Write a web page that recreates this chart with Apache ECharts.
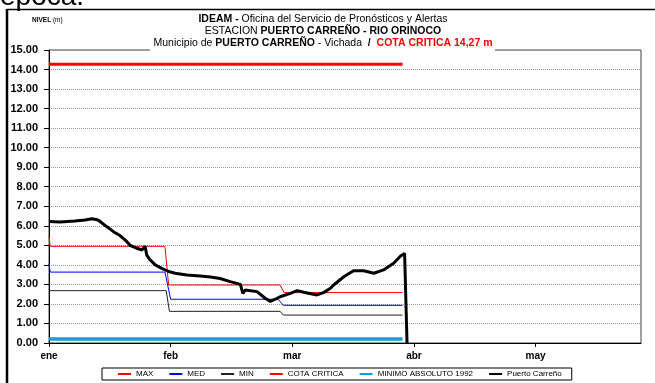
<!DOCTYPE html>
<html>
<head>
<meta charset="utf-8">
<script src="https://cdn.jsdelivr.net/npm/echarts@6/dist/echarts.min.js"></script>
<style>
html,body{margin:0;padding:0;background:#fff;}
#chart{width:655px;height:383px;}
</style>
</head>
<body>
<div id="chart"></div>
<script>
// Time axis: day index from 1 January, months drawn every 30 days
const monthLabels = ['ene', 'feb', 'mar', 'abr', 'may'];
const monthTicks = [0, 30, 60, 90, 120];

// Historical reference levels (m)
const maxDays = [0, 0.3, 28.6, 29.5, 57.0, 58.0, 87.2];
const maxVals = [5.45, 4.95, 4.95, 2.97, 2.97, 2.58, 2.58];
const medDays = [0, 0.3, 28.6, 30.0, 56.5, 57.8, 87.2];
const medVals = [4.05, 3.63, 3.63, 2.24, 2.24, 1.93, 1.93];
const minDays = [0, 28.9, 29.7, 57.0, 57.8, 87.2];
const minVals = [2.68, 2.68, 1.62, 1.62, 1.43, 1.43];

// Critical level and absolute minimum
const cotaDays = [0, 87.2];
const cotaVals = [14.27, 14.27];
const minAbsDays = [0, 87.2];
const minAbsVals = [0.2, 0.2];

// Observed level at Puerto Carreño
const pcDays = [0, 2.7, 6.4, 8.9, 10.6, 12.1, 12.6, 14.2, 15.9, 17.5, 18.8, 20.0, 21.7, 22.9,
  23.7, 24.1, 24.8, 26.2, 27.8, 29.5, 31.1, 34.0, 37.3, 39.8, 42.2, 44.7, 47.2, 47.6, 47.8,
  48.4, 48.8, 51.3, 53.3, 54.6, 55.8, 57.0, 59.5, 61.2, 62.8, 66.1, 67.7, 69.4, 70.2, 72.7,
  75.1, 77.6, 80.1, 82.5, 85.0, 86.7, 87.7, 88.0, 88.3];
const pcVals = [6.22, 6.20, 6.24, 6.30, 6.36, 6.30, 6.22, 5.96, 5.70, 5.50, 5.27, 5.00, 4.85, 4.76,
  4.95, 4.50, 4.29, 4.00, 3.82, 3.66, 3.57, 3.48, 3.43, 3.38, 3.30, 3.14, 3.00, 2.97, 2.54,
  2.71, 2.75, 2.63, 2.29, 2.13, 2.24, 2.37, 2.54, 2.68, 2.60, 2.46, 2.58, 2.80, 2.97, 3.39,
  3.70, 3.70, 3.57, 3.74, 4.08, 4.45, 4.58, 4.50, 0.0];

const FONT = '"Liberation Sans", Arial, sans-serif';
const pairs = (xs, ys) => xs.map((d, i) => [d, ys[i]]);

const chart = echarts.init(document.getElementById('chart'), null, {renderer: 'canvas'});

const thin = (name, color, xs, ys) => ({
  name, type: 'line', data: pairs(xs, ys), symbol: 'none', z: 3,
  lineStyle: {color, width: 1}, itemStyle: {color}
});
const thick = (name, color, width, xs, ys, z) => ({
  name, type: 'line', data: pairs(xs, ys), symbol: 'none', z,
  lineStyle: {color, width}, itemStyle: {color}
});

chart.setOption({
  animation: false,
  backgroundColor: '#fff',
  grid: {left: 49, right: 14, top: 50, bottom: 40, show: true, borderColor: '#444', borderWidth: 1, backgroundColor: 'transparent'},
  xAxis: {
    type: 'value', min: 0, max: 146,
    axisLine: {show: true, lineStyle: {color: '#000', width: 1}},
    axisTick: {show: true, length: 4, lineStyle: {color: '#000'}, customValues: monthTicks},
    axisLabel: {
      customValues: monthTicks, margin: 8,
      fontFamily: FONT, fontSize: 10, fontWeight: 'bold', color: '#000',
      formatter: v => monthLabels[Math.round(v / 30)] || ''
    },
    splitLine: {show: false}
  },
  yAxis: {
    type: 'value', min: 0, max: 15, interval: 1,
    axisLine: {show: true, lineStyle: {color: '#000', width: 1}},
    axisTick: {show: true, length: 5, lineStyle: {color: '#000'}},
    axisLabel: {margin: 11, fontFamily: FONT, fontSize: 11, fontWeight: 'bold', color: '#000',
      formatter: v => v.toFixed(2)},
    splitLine: {show: true, lineStyle: {color: '#999', type: 'dotted', width: 1}}
  },
  legend: {
    left: 102, top: 368,
    padding: [2, 10, 2, 15],
    itemGap: 15, itemWidth: 13, itemHeight: 10,
    borderColor: '#000', borderWidth: 1,
    itemStyle: {opacity: 0},
    textStyle: {fontFamily: FONT, fontSize: 8, color: '#000'},
    data: ['MAX', 'MED', 'MIN', 'COTA CRITICA', 'MINIMO ABSOLUTO 1992', 'Puerto Carreño']
  },
  series: [
    thin('MAX', '#ff0000', maxDays, maxVals),
    thin('MED', '#0000ff', medDays, medVals),
    thin('MIN', '#222222', minDays, minVals),
    thick('COTA CRITICA', '#ff0000', 3, cotaDays, cotaVals, 4),
    thick('MINIMO ABSOLUTO 1992', '#1a9ad6', 3.5, minAbsDays, minAbsVals, 4),
    thick('Puerto Carreño', '#000000', 3, pcDays, pcVals, 5)
  ],
  graphic: [
    // page frame
    {type: 'line', z: 50, shape: {x1: 7, y1: 9.5, x2: 660, y2: 9.5}, style: {stroke: '#000', lineWidth: 1.3}},
    {type: 'line', z: 50, shape: {x1: 7, y1: 9, x2: 7, y2: 390}, style: {stroke: '#000', lineWidth: 2.5}},
    // text running above the frame
    {type: 'text', z: 50, style: {text: 'época.', x: 0, y: -2.3, font: '28px ' + FONT, fill: '#000', align: 'left', verticalAlign: 'middle'}},
    // title backing
    {type: 'rect', z: 60, shape: {x: 150, y: 36, width: 345, height: 16}, style: {fill: '#fff'}},
    // axis unit
    {type: 'text', z: 61, style: {
      text: '{b|NIVEL}{n| (m)}', x: 32, y: 20, align: 'left', verticalAlign: 'middle',
      rich: {b: {fontFamily: FONT, fontSize: 6.5, fontWeight: 'bold', fill: '#000'},
             n: {fontFamily: FONT, fontSize: 6.5, fill: '#000'}}
    }},
    // title lines
    {type: 'text', z: 61, style: {
      text: '{b|IDEAM - }{n|Oficina del Servicio de Pronósticos y Alertas}', x: 323, y: 19,
      align: 'center', verticalAlign: 'middle',
      rich: {b: {fontFamily: FONT, fontSize: 10.5, fontWeight: 'bold', fill: '#000'},
             n: {fontFamily: FONT, fontSize: 10.5, fill: '#000'}}
    }},
    {type: 'text', z: 61, style: {
      text: '{n|ESTACION }{b|PUERTO CARREÑO - RIO ORINOCO}', x: 323, y: 31,
      align: 'center', verticalAlign: 'middle',
      rich: {b: {fontFamily: FONT, fontSize: 10.5, fontWeight: 'bold', fill: '#000'},
             n: {fontFamily: FONT, fontSize: 10.5, fill: '#000'}}
    }},
    {type: 'text', z: 61, style: {
      text: '{n|Municipio de }{b|PUERTO CARREÑO}{n| - Vichada }{b| /  }{r|COTA CRITICA 14,27 m}', x: 323, y: 43,
      align: 'center', verticalAlign: 'middle',
      rich: {b: {fontFamily: FONT, fontSize: 10.5, fontWeight: 'bold', fill: '#000'},
             n: {fontFamily: FONT, fontSize: 10.5, fill: '#000'},
             r: {fontFamily: FONT, fontSize: 10.5, fontWeight: 'bold', fill: '#ff0000'}}
    }}
  ]
});
</script>
</body>
</html>
